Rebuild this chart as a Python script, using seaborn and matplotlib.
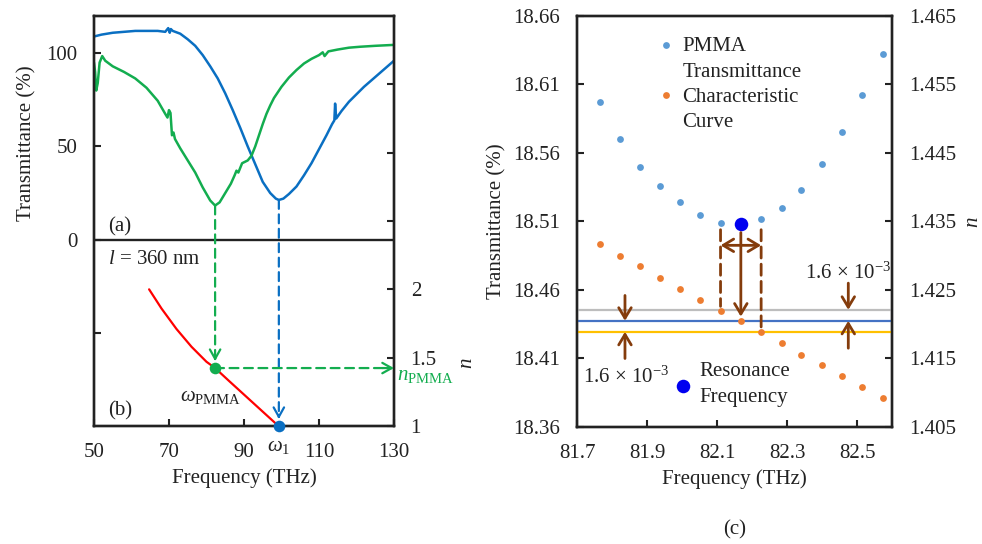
import matplotlib
matplotlib.use('Agg')
import matplotlib.pyplot as plt
import matplotlib.transforms as mtransforms
import seaborn as sns

# ---- panel (a): measured transmittance spectra ----
freq_blue = [50, 52, 55, 58, 61, 64, 67, 69, 69.8, 70.2, 70.5, 71, 73, 75, 77, 79, 81, 83,
             85, 87, 89, 91, 93, 95, 97, 98.5, 99.3, 100.5, 102, 104, 106, 108, 110, 112,
             113.5, 114.1, 114.3, 114.6, 116, 118, 120, 122, 124, 126, 128, 130]
trans_blue = [109, 110, 111, 111.5, 112, 112, 112, 111.5, 113.5, 111, 113, 112, 110.5, 107.5,
              104, 99, 93, 86.5, 78.5, 69.5, 60, 50, 40.5, 31, 25, 22, 21.3, 22, 24.5, 28.5,
              34.5, 41, 48.5, 56, 62, 64, 73, 65, 69, 74, 78, 82, 85.5, 89, 92.5, 96]

freq_green = [50, 50.3, 50.6, 51, 51.5, 52.2, 53, 55, 58, 61, 64, 67, 69, 69.6, 70, 70.4, 70.8,
              71.2, 71.6, 73, 75, 77, 79, 81, 82.3, 83.5, 85, 86.5, 87.5, 88, 88.5, 89.5, 91,
              92, 93, 94, 95, 96, 97, 98, 100, 102, 104, 106, 108, 110, 111, 111.5, 112.5,
              115, 118, 121, 125, 130]
trans_green = [95, 90, 80, 84, 95, 98.5, 96, 93, 90, 86.5, 81.5, 74.5, 67.5, 65.5, 69.5, 68,
               56, 57.5, 54, 49, 42.5, 36, 28, 21, 18.3, 20, 25, 30, 34.5, 37, 36, 41, 42.5,
               45, 50, 56, 62, 67.5, 72, 76, 82, 87, 91, 94.5, 97, 99, 100.5, 98.5, 101,
               102, 103, 103.5, 104, 104.5]

# ---- panel (b): characteristic curve n(omega) ----
freq_n = [64.7, 68, 72, 76, 80, 82.3, 86, 90, 94, 97, 99.2]
n_curve = [2.0, 1.86, 1.71, 1.58, 1.47, 1.424, 1.33, 1.23, 1.13, 1.055, 1.0]
omega_pmma, n_pmma, dip_green = 82.3, 1.424, 18.3
omega_1, n_1, dip_blue = 99.3, 1.0, 21.3

# ---- panel (c): zoom around the PMMA resonance ----
freq_c = [81.766, 81.823, 81.881, 81.937, 81.995, 82.052, 82.110, 82.168, 82.226, 82.285,
          82.341, 82.399, 82.457, 82.515, 82.573]
trans_c = [18.597, 18.570, 18.550, 18.536, 18.524, 18.515, 18.509, 18.508, 18.512, 18.520,
           18.533, 18.552, 18.575, 18.602, 18.632]
n_c = [1.4317, 1.4300, 1.4285, 1.4268, 1.4252, 1.4235, 1.4220, 1.4205, 1.4188, 1.4172,
       1.4155, 1.4140, 1.4124, 1.4108, 1.4092]
res_freq = [82.168]
res_trans = [18.508]
n_band = [1.4221, 1.4205, 1.4189]

x_ticks_ab = [50, 70, 90, 110, 130]
x_ticks_c = [81.7, 81.9, 82.1, 82.3, 82.5]
y_ticks_c = [18.36, 18.41, 18.46, 18.51, 18.56, 18.61, 18.66]
n_ticks_c = [1.405, 1.415, 1.425, 1.435, 1.445, 1.455, 1.465]

BLUE = '#0a6fc2'
GREEN = '#13ad4f'
DARK = '#222222'
PT_BLUE = '#5b9bd5'
PT_ORANGE = '#ed7d31'
BROWN = '#843c0c'

sns.set_theme(style='ticks')
plt.rcParams['font.family'] = ['Liberation Serif', 'DejaVu Serif']
plt.rcParams.update({
    'font.size': 15, 'axes.labelsize': 15, 'xtick.labelsize': 15, 'ytick.labelsize': 15,
    'legend.fontsize': 15,
    'mathtext.fontset': 'custom', 'mathtext.rm': 'Liberation Serif',
    'mathtext.it': 'Liberation Serif:italic',
    'axes.linewidth': 1.7, 'axes.edgecolor': DARK,
    'xtick.direction': 'in', 'ytick.direction': 'in',
    'xtick.major.size': 5, 'ytick.major.size': 5,
    'xtick.major.width': 1.5, 'ytick.major.width': 1.5,
    'xtick.major.pad': 12, 'ytick.major.pad': 12,
    'xtick.color': DARK, 'ytick.color': DARK,
    'text.color': DARK, 'axes.labelcolor': DARK,
})

fig = plt.figure(figsize=(9.82, 5.44), dpi=100)


def dashed_arrow(host, xy, xytext, src, color, head, shrink):
    host.annotate('', xy=xy, xycoords='data', xytext=xytext, textcoords=src,
                  arrowprops=dict(arrowstyle='-', color=color, lw=1.6, ls=(0, (4, 2.5)),
                                  shrinkA=0, shrinkB=shrink + 2), annotation_clip=False)
    host.annotate('', xy=xy, xycoords='data', xytext=head, textcoords='offset points',
                  arrowprops=dict(arrowstyle='->,head_length=0.45,head_width=0.25', color=color,
                                  lw=1.6, shrinkA=0, shrinkB=shrink), annotation_clip=False)


# ===== left figure: (a) + (b) share one frame =====
ax = fig.add_axes([0.0957, 0.2169, 0.3055, 0.7537])
ax.axhline(0, color=DARK, lw=1.7, zorder=1)
sns.lineplot(x=freq_blue, y=trans_blue, ax=ax, color=BLUE, lw=1.8, estimator=None, sort=False)
sns.lineplot(x=freq_green, y=trans_green, ax=ax, color=GREEN, lw=1.8, estimator=None, sort=False)
ax.set_xlim(50, 130)
ax.set_ylim(-100, 120)
ax.set_xticks(x_ticks_ab, [str(t) for t in x_ticks_ab])
ax.set_yticks([-50, 0, 50, 100], ['', '0', '50', '100'])
ax.set_xlabel('Frequency (THz)', labelpad=5)
ax.set_ylabel('Transmittance (%)')
ax.yaxis.set_label_coords(-0.19, 0.69)
ax.text(0.047, 0.485, '(a)', transform=ax.transAxes, va='center')
ax.text(0.047, 0.037, '(b)', transform=ax.transAxes, va='center')
ax.text(0.047, 0.407, '$l$ = 360 nm', transform=ax.transAxes, va='center')

ax2 = ax.twinx()
sns.lineplot(x=freq_n, y=n_curve, ax=ax2, color='red', lw=1.6, estimator=None, sort=False)
ax2.set_ylim(1, 4)
ax2.set_yticks([1, 1.5, 2, 2.5, 3, 3.5], ['1', '1.5', '2', '', '', ''])
ax2.set_ylabel('n', style='italic')
ax2.yaxis.set_label_coords(1.21, 0.154)

dashed_arrow(ax2, (omega_pmma, n_pmma), (omega_pmma, dip_green), ax.transData, GREEN, (0, 8), 5)
dashed_arrow(ax2, (omega_1, n_1), (omega_1, dip_blue), ax.transData, BLUE, (0, 8), 5)
dashed_arrow(ax2, (130, n_pmma), (omega_pmma, n_pmma), ax2.transData, GREEN, (-8, 0), 0)
sns.scatterplot(x=[omega_pmma], y=[n_pmma], ax=ax2, color=GREEN, s=70, linewidth=0, zorder=5,
                clip_on=False)
sns.scatterplot(x=[omega_1], y=[n_1], ax=ax2, color=BLUE, s=70, linewidth=0, zorder=5,
                clip_on=False)

blend = mtransforms.blended_transform_factory(ax2.transAxes, ax2.transData)
ax2.annotate(r'$n_{\mathrm{PMMA}}$', xy=(1.01, n_pmma), xycoords=blend, xytext=(0, -5),
             textcoords='offset points', color=GREEN, va='center', annotation_clip=False)
ax2.text(0.287, 0.071, r'$\omega_{\mathrm{PMMA}}$', transform=ax2.transAxes, va='center')
blend_x = mtransforms.blended_transform_factory(ax2.transData, ax2.transAxes)
ax2.text(omega_1, -0.05, r'$\omega_{1}$', transform=blend_x, ha='center', va='center')

# ===== right figure: (c) =====
axc = fig.add_axes([0.5876, 0.2151, 0.3208, 0.7555])
sns.scatterplot(x=freq_c, y=trans_c, ax=axc, color=PT_BLUE, s=24, linewidth=0,
                label='PMMA\nTransmittance', zorder=3)
sns.scatterplot(x=res_freq, y=res_trans, ax=axc, color='#0000f0', s=95, linewidth=0,
                label='Resonance\nFrequency', zorder=4)
axc.set_xlim(81.7, 82.6)
axc.set_ylim(18.36, 18.66)
axc.set_xticks(x_ticks_c, [f'{t:.1f}' for t in x_ticks_c])
axc.set_yticks(y_ticks_c, [f'{t:.2f}' for t in y_ticks_c])
axc.set_xlabel('Frequency (THz)', labelpad=5)
axc.set_ylabel('Transmittance (%)')
axc.yaxis.set_label_coords(-0.225, 0.5)

axc2 = axc.twinx()
for nb, col in zip(n_band, ['#bdbdbd', '#4472c4', '#ffc000']):
    axc2.axhline(nb, color=col, lw=1.6, zorder=1)
sns.scatterplot(x=freq_c, y=n_c, ax=axc2, color=PT_ORANGE, s=24, linewidth=0,
                label='Characteristic\nCurve', zorder=3)
axc2.set_ylim(1.405, 1.465)
axc2.set_yticks(n_ticks_c, [f'{t:.3f}' for t in n_ticks_c])
axc2.set_ylabel('n', style='italic')
axc2.yaxis.set_label_coords(1.225, 0.5)

# brackets around the resonance
bracket_top, arrow_level = 18.504, 18.4926
for i in (6, 8):
    axc2.annotate('', xy=(freq_c[i], n_c[i]), xycoords='data', xytext=(freq_c[i], bracket_top),
                  textcoords=axc.transData,
                  arrowprops=dict(arrowstyle='-', color=BROWN, lw=2, ls=(0, (4, 2.2)),
                                  shrinkA=0, shrinkB=3))
axc2.annotate('', xy=(freq_c[6], arrow_level), xycoords=axc.transData,
              xytext=(freq_c[8], arrow_level), textcoords=axc.transData,
              arrowprops=dict(arrowstyle='<->,head_length=0.5,head_width=0.3', color=BROWN,
                              lw=2, shrinkA=0, shrinkB=0))
axc2.annotate('', xy=(res_freq[0], n_c[7]), xycoords='data',
              xytext=(res_freq[0], res_trans[0]), textcoords=axc.transData,
              arrowprops=dict(arrowstyle='->,head_length=0.5,head_width=0.3', color=BROWN,
                              lw=2, shrinkA=6, shrinkB=3))

# +-1.6e-3 markers
arrow_pairs = [(81.837, 1.4242, n_band[1]), (81.837, 1.4150, n_band[2]),
               (82.475, 1.4260, n_band[0]), (82.475, 1.4165, n_band[1])]
for fx, n_from, n_to in arrow_pairs:
    axc2.annotate('', xy=(fx, n_to), xytext=(fx, n_from),
                  arrowprops=dict(arrowstyle='->,head_length=0.5,head_width=0.3', color=BROWN,
                                  lw=2, shrinkA=0, shrinkB=0))
axc2.text(81.84, 1.4122, r'1.6 × 10$^{-3}$', ha='center', va='center')
axc2.text(82.475, 1.4274, r'1.6 × 10$^{-3}$', ha='center', va='center')

# legends
h1, l1 = axc.get_legend_handles_labels()
h2, l2 = axc2.get_legend_handles_labels()
for a in (axc, axc2):
    if a.get_legend() is not None:
        a.get_legend().remove()
leg1 = axc2.legend([h1[0], h2[0]], [l1[0], l2[0]], loc='upper left',
                   bbox_to_anchor=(0.262, 0.948), frameon=False, handlelength=0.6,
                   handletextpad=0.5, borderpad=0, borderaxespad=0, labelspacing=0.3,
                   scatteryoffsets=[1.5])
for t in leg1.get_texts():
    t.set_linespacing(1.45)
axc2.add_artist(leg1)
leg2 = axc2.legend([h1[1]], [l1[1]], loc='upper left', bbox_to_anchor=(0.315, 0.158),
                   frameon=False, handlelength=0.6, handletextpad=0.5, borderpad=0,
                   borderaxespad=0)
for t in leg2.get_texts():
    t.set_linespacing(1.5)

fig.text(0.748, 0.026, '(c)', ha='center', va='center')

fig.savefig('out.png', dpi=100)
